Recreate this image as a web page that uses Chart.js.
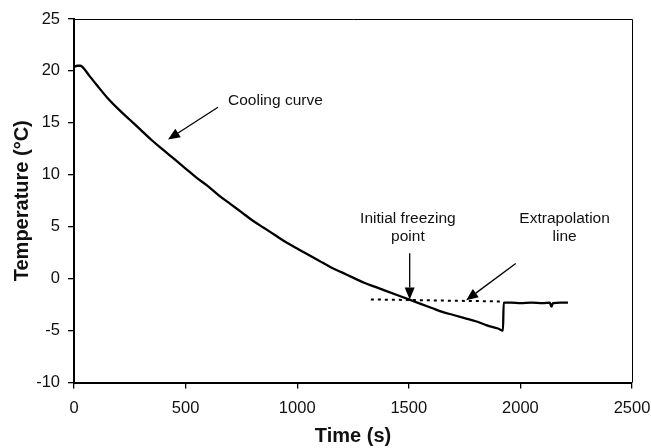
<!DOCTYPE html>
<html>
<head>
<meta charset="utf-8">
<script src="https://cdn.jsdelivr.net/npm/chart.js@4.4.1/dist/chart.umd.min.js"></script>
<style>
  html, body { margin: 0; padding: 0; background: #fff; }
  #wrap { width: 651px; height: 448px; }
</style>
</head>
<body>
<div id="wrap"><canvas id="chart" width="651" height="448"></canvas></div>
<script>
// cooling curve (time in s, temperature in °C)
const times = [0, 15, 30, 45, 70, 100, 150, 200, 250, 300, 350, 400, 450, 500, 550, 600, 650, 700, 750, 800, 850, 900, 950,
  1000, 1050, 1100, 1150, 1200, 1250, 1300, 1350, 1400, 1450, 1500, 1550, 1600, 1650, 1700, 1750, 1800, 1850, 1900, 1922,
  1925, 1960, 2000, 2050, 2100, 2132, 2139, 2146, 2180, 2213];
const temps = [20.4, 20.5, 20.5, 20.2, 19.5, 18.7, 17.4, 16.3, 15.3, 14.3, 13.3, 12.4, 11.5, 10.6, 9.7, 8.9, 8.0, 7.2, 6.4, 5.6, 4.9, 4.2, 3.5,
  2.9, 2.3, 1.7, 1.1, 0.6, 0.1, -0.4, -0.8, -1.2, -1.6, -2.0, -2.4, -2.8, -3.2, -3.5, -3.8, -4.1, -4.5, -4.8, -5.0,
  -2.3, -2.3, -2.35, -2.3, -2.35, -2.3, -2.7, -2.35, -2.3, -2.3];

// dotted extrapolation line
const extraTimes = [1330, 1920];
const extraTemps = [-2.0, -2.2];

const xTicks = [0, 500, 1000, 1500, 2000, 2500];
const yTicks = [-10, -5, 0, 5, 10, 15, 20, 25];

// annotation texts and arrows, in data units
const notes = [
  { lines: ["Cooling curve"], x: 690, y: 17.1, align: "left" },
  { lines: ["Initial freezing", "point"], x: 1496, y: 5.8, align: "center" },
  { lines: ["Extrapolation", "line"], x: 2198, y: 5.8, align: "center" },
];
const arrows = [
  { from: [645, 16.5], to: [421, 13.4] },
  { from: [1504, 2.45], to: [1504, -2.0] },
  { from: [1979, 1.45], to: [1757, -2.08] },
];

const toPts = (xs, ys) => xs.map((x, i) => ({ x: x, y: ys[i] }));

const annotatePlugin = {
  id: "annotate",
  afterDraw(chart) {
    const c = chart.ctx;
    const xs = chart.scales.x, ys = chart.scales.y;
    const a = chart.chartArea;
    c.save();
    // frame top and right
    c.strokeStyle = "#000";
    c.lineWidth = 1;
    c.beginPath();
    c.moveTo(a.left, a.top + 0.5);
    c.lineTo(a.right + 0.5, a.top + 0.5);
    c.lineTo(a.right + 0.5, a.bottom);
    c.stroke();

    c.fillStyle = "#111";
    c.font = "15.5px 'Liberation Sans', Arial, sans-serif";
    c.textBaseline = "middle";
    notes.forEach((n) => {
      c.textAlign = n.align;
      const px = xs.getPixelForValue(n.x);
      const py = ys.getPixelForValue(n.y);
      n.lines.forEach((t, i) => c.fillText(t, px, py + i * 18.5));
    });

    c.strokeStyle = "#000";
    c.fillStyle = "#000";
    c.lineWidth = 1.3;
    arrows.forEach((ar) => {
      const x1 = xs.getPixelForValue(ar.from[0]), y1 = ys.getPixelForValue(ar.from[1]);
      const x2 = xs.getPixelForValue(ar.to[0]), y2 = ys.getPixelForValue(ar.to[1]);
      const ang = Math.atan2(y2 - y1, x2 - x1);
      const len = 12, half = 5;
      const bx = x2 - len * Math.cos(ang), by = y2 - len * Math.sin(ang);
      c.beginPath();
      c.moveTo(x1, y1);
      c.lineTo(bx, by);
      c.stroke();
      c.beginPath();
      c.moveTo(x2, y2);
      c.lineTo(bx + half * Math.sin(ang), by - half * Math.cos(ang));
      c.lineTo(bx - half * Math.sin(ang), by + half * Math.cos(ang));
      c.closePath();
      c.fill();
    });
    c.restore();
  },
};

const tickFont = { family: "'Liberation Sans', Arial, sans-serif", size: 16.5 };
const titleFont = { family: "'Liberation Sans', Arial, sans-serif", size: 20, weight: "bold" };

new Chart(document.getElementById("chart"), {
  type: "line",
  data: {
    datasets: [
      {
        label: "Cooling curve",
        data: toPts(times, temps),
        borderColor: "#000",
        borderWidth: 2.3,
        pointRadius: 0,
        cubicInterpolationMode: "monotone",
        fill: false,
      },
      {
        label: "Extrapolation line",
        data: toPts(extraTimes, extraTemps),
        borderColor: "#000",
        borderWidth: 2,
        borderDash: [3, 4],
        pointRadius: 0,
        fill: false,
      },
    ],
  },
  options: {
    responsive: false,
    animation: false,
    layout: { padding: { top: 19, right: 19, left: 0, bottom: 0 } },
    plugins: { legend: { display: false }, tooltip: { enabled: false } },
    scales: {
      x: {
        type: "linear",
        min: 0,
        max: 2500,
        afterBuildTicks: (s) => { s.ticks = xTicks.map((v) => ({ value: v })); },
        afterFit: (s) => { s.height = 65.5; s.paddingLeft = 0; s.paddingRight = 0; },
        ticks: { font: tickFont, color: "#111", padding: 10, maxRotation: 0, callback: (v) => String(v) },
        grid: { drawOnChartArea: false, drawTicks: true, tickLength: 6, color: "#000", lineWidth: 1.3 },
        border: { color: "#000", width: 2 },
        title: { display: true, text: "Time (s)", font: titleFont, color: "#111", padding: { top: 0, bottom: 0 } },
      },
      y: {
        type: "linear",
        min: -10,
        max: 25,
        afterBuildTicks: (s) => { s.ticks = yTicks.map((v) => ({ value: v })); },
        afterFit: (s) => { s.width = 74; s.paddingTop = 0; s.paddingBottom = 0; },
        ticks: { font: tickFont, color: "#111", padding: 8, callback: (v) => String(v) },
        grid: { drawOnChartArea: false, drawTicks: true, tickLength: 6, color: "#000", lineWidth: 1.3 },
        border: { color: "#000", width: 2 },
        title: { display: true, text: "Temperature (°C)", font: titleFont, color: "#111", padding: { top: 10, bottom: 0 } },
      },
    },
  },
  plugins: [annotatePlugin],
});
</script>
</body>
</html>
